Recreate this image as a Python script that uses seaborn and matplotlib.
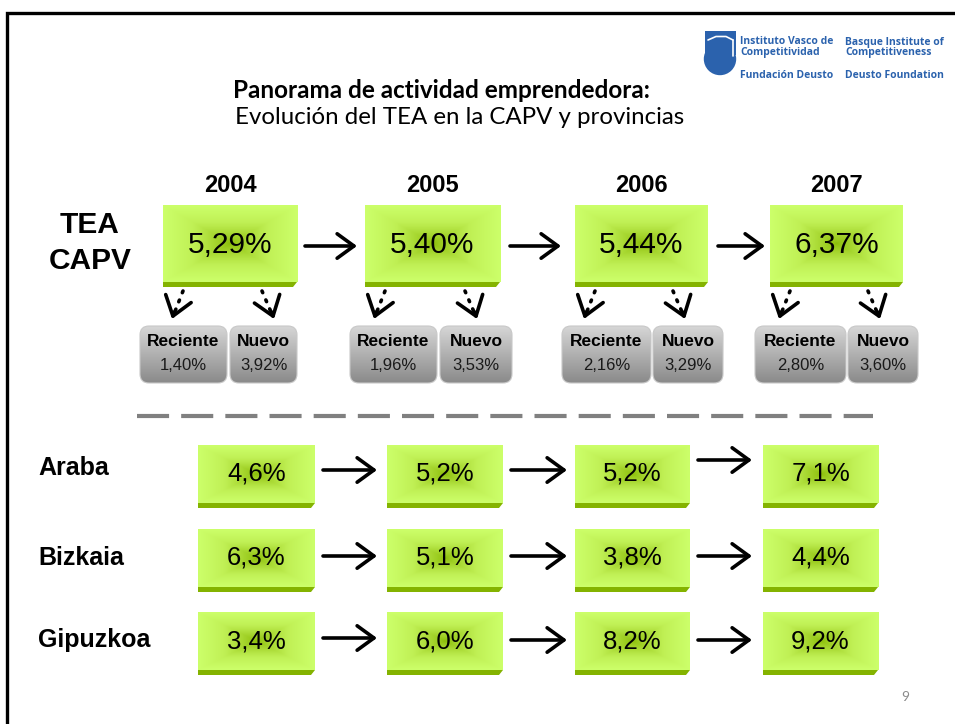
import numpy as np
import matplotlib
matplotlib.use("Agg")
import matplotlib.pyplot as plt
from matplotlib.patches import FancyBboxPatch, Polygon, Circle, Rectangle
import seaborn as sns

# =============================================================================
# Data
# =============================================================================
years = ["2004", "2005", "2006", "2007"]
tea_capv = [5.29, 5.40, 5.44, 6.37]
reciente = [1.40, 1.96, 2.16, 2.80]
nuevo = [3.92, 3.53, 3.29, 3.60]

provinces = ["Araba", "Bizkaia", "Gipuzkoa"]
araba = [4.6, 5.2, 5.2, 7.1]
bizkaia = [6.3, 5.1, 3.8, 4.4]
gipuzkoa = [3.4, 6.0, 8.2, 9.2]

# =============================================================================
# Layout (pixel coordinates of the slide)
# =============================================================================
top_box_x = [(163, 297), (365, 500), (575, 708), (770, 903)]
top_box_y = (205, 282)
gray_boxes = [((140, 227), (230, 297)), ((350, 437), (440, 512)),
              ((562, 651), (653, 723)), ((755, 846), (848, 918))]
gray_y = (326, 383)
low_box_x = [(198, 315), (387, 503), (575, 690), (763, 878)]
low_box_y = [(445, 503), (529, 587), (612, 670)]
low_arrow_y = [[470, 470, 460], [556, 556, 556], [638, 640, 640]]
low_arrow_x = [(323, 377), (511, 567), (698, 752)]
top_arrow_x = [(305, 357), (510, 561), (718, 765)]

sns.set_theme(style="white")
plt.rcParams['font.family'] = ['Liberation Sans', 'DejaVu Sans']
plt.rcParams['text.color'] = 'black'

green_cmap = sns.blend_palette(["#8cbf0a", "#a4d42c", "#c0f055", "#ccff6a"], as_cmap=True)
gray_cmap = sns.blend_palette(["#d6d6d6", "#b0b0b0", "#8a8a8a"], as_cmap=True)


def fmt(v, nd):
    return f"{v:.{nd}f}".replace(".", ",") + "%"


fig = plt.figure(figsize=(9.55, 7.24), dpi=100)
ax = fig.add_axes([0, 0, 1, 1])
ax.set_xlim(0, 955)
ax.set_ylim(724, 0)
ax.axis("off")

# slide frame
ax.plot([7, 7, 955], [724, 13, 13], color="black", lw=2.4, solid_capstyle="butt",
        solid_joinstyle="miter", zorder=1)


def green_box(x0, x1, y0, y1):
    n = 120
    X, Y = np.meshgrid(np.linspace(-1, 1, n), np.linspace(-1, 1, n))
    d = np.maximum(np.abs(X), np.abs(Y)) ** 0.65
    ax.imshow(d, cmap=green_cmap, extent=(x0, x1, y1, y0), aspect="auto",
              interpolation="bilinear", zorder=2)
    ax.add_patch(Polygon([(x0, y1), (x1, y1), (x1 - 4, y1 + 5), (x0, y1 + 5)],
                         closed=True, color="#84b300", lw=0, zorder=2))


def gray_box(x0, x1, y0, y1):
    patch = FancyBboxPatch((x0, y0), x1 - x0, y1 - y0,
                           boxstyle="round,pad=0,rounding_size=9",
                           fc="none", ec="#c8c8c8", lw=0.8, zorder=3)
    ax.add_patch(patch)
    grad = np.linspace(0, 1, 100)[:, None] * np.ones((1, 10))
    im = ax.imshow(grad, cmap=gray_cmap, extent=(x0, x1, y1, y0), aspect="auto",
                   interpolation="bilinear", zorder=2)
    im.set_clip_path(patch)


def arrow(x0, y0, x1, y1, lw=2.6, ms=22):
    ax.annotate("", xy=(x1, y1), xytext=(x0, y0),
                arrowprops=dict(arrowstyle="->,head_length=0.55,head_width=0.4",
                                lw=lw, color="black", mutation_scale=ms,
                                shrinkA=0, shrinkB=0), zorder=4)


# titles
ax.text(441, 90, "Panorama de actividad emprendedora:", ha="center", va="center",
        fontsize=17.5, fontweight="bold", family=["Lato", "DejaVu Sans"])
ax.text(460, 118, "Evolución del TEA en la CAPV y provincias", ha="center", va="center",
        fontsize=17.3, family=["Lato", "DejaVu Sans"])

# logo
blue = "#2b62ad"
ax.add_patch(Circle((720, 59), 15.5, color=blue, zorder=2))
ax.add_patch(Rectangle((704.5, 31), 31, 24, color=blue, lw=0, zorder=2))
ax.plot([708, 716, 726, 733], [40, 36.5, 36.5, 40], color="white", lw=1.2, zorder=3)
ax.plot([733, 733], [40, 56], color="white", lw=1.2, zorder=3)
logo_font = ["Open Sans", "DejaVu Sans"]
for x, lines in [(740, ["Instituto Vasco de", "Competitividad", "Fundación Deusto"]),
                 (845, ["Basque Institute of", "Competitiveness", "Deusto Foundation"])]:
    for y, s in zip([42, 52.5, 75], lines):
        ax.text(x, y, s, ha="left", va="center", fontsize=7.5, fontweight="bold",
                color=blue, family=logo_font)

# TEA CAPV label
ax.text(90, 225, "TEA", ha="center", va="center", fontsize=21.5, fontweight="bold")
ax.text(90, 261, "CAPV", ha="center", va="center", fontsize=21.5, fontweight="bold")

# top row
for i, yr in enumerate(years):
    x0, x1 = top_box_x[i]
    cx = (x0 + x1) / 2
    ax.text(cx, 185, yr, ha="center", va="center", fontsize=17, fontweight="bold")
    green_box(x0, x1, *top_box_y)
    ax.text(cx, 245, fmt(tea_capv[i], 2), ha="center", va="center", fontsize=21.5,
            zorder=5)

    (r0, r1), (n0, n1) = gray_boxes[i]
    gray_box(r0, r1, *gray_y)
    gray_box(n0, n1, *gray_y)
    for (b0, b1), val, lab in [((r0, r1), reciente[i], "Reciente"),
                               ((n0, n1), nuevo[i], "Nuevo")]:
        bx = (b0 + b1) / 2
        ax.text(bx, 342, lab, ha="center", va="center", fontsize=12.5,
                fontweight="bold", zorder=5)
        ax.text(bx, 365, fmt(val, 2), ha="center", va="center", fontsize=12,
                color="#1a1a1a", zorder=5)

    # dotted arrows down to components
    for sx, tx in [(x0 + 20, x0 + 9), (x1 - 35, x1 - 23)]:
        ax.plot([sx, tx + (sx - tx) * 0.25], [291, 312], color="black", lw=2.6,
                linestyle=(0, (0.5, 2.2)), dash_capstyle="round", zorder=4)
        arrow(sx + (tx - sx) * 0.8, 312, tx, 319, lw=2.6, ms=24)

for (a0, a1) in top_arrow_x:
    arrow(a0, 246, a1, 246)

# dashed separator
ax.plot([137, 873], [416, 416], color="#808080", lw=3, linestyle=(0, (7.7, 2.9)),
        solid_capstyle="butt", dash_capstyle="butt", zorder=2)

# provinces
for r, (name, vals) in enumerate(zip(provinces, [araba, bizkaia, gipuzkoa])):
    y0, y1 = low_box_y[r]
    cy = (y0 + y1) / 2
    ax.text(38, [468, 558, 640][r], name, ha="left", va="center", fontsize=18,
            fontweight="bold")
    for c, v in enumerate(vals):
        x0, x1 = low_box_x[c]
        green_box(x0, x1, y0, y1)
        ax.text((x0 + x1) / 2, cy, fmt(v, 1), ha="center", va="center",
                fontsize=18.5, zorder=5)
    for c, (a0, a1) in enumerate(low_arrow_x):
        arrow(a0, low_arrow_y[r][c], a1, low_arrow_y[r][c])

# page number
ax.text(905, 697, "9", ha="center", va="center", fontsize=10, color="#8a8a8a",
        family=["Lato", "DejaVu Sans"])

fig.savefig("out.png", dpi=100)
